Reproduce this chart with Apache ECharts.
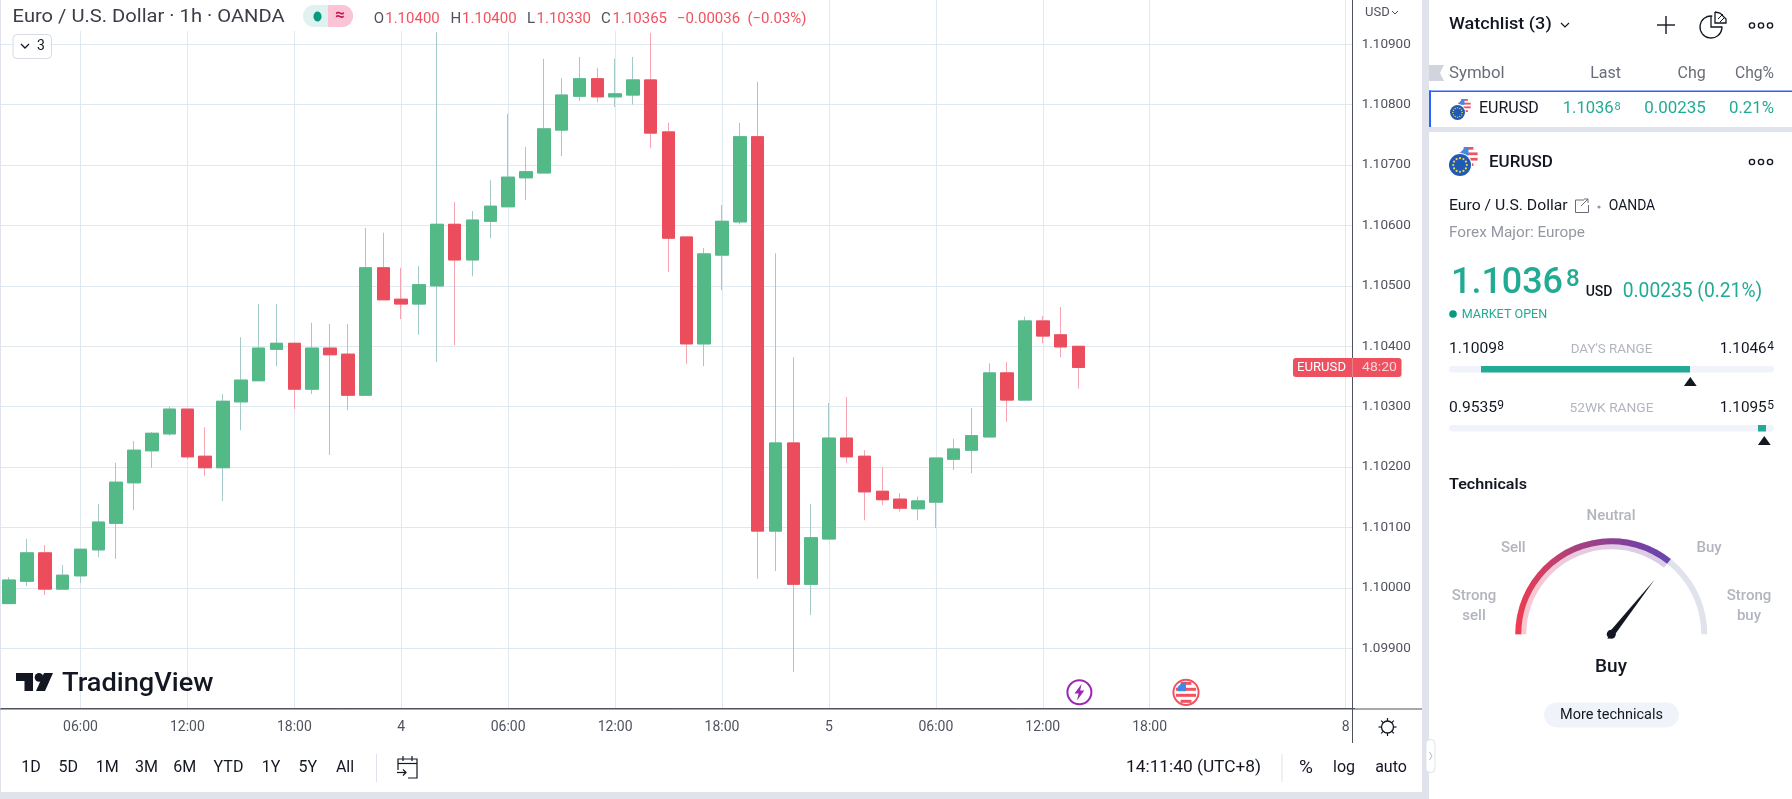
<!DOCTYPE html>
<html><head><meta charset="utf-8">
<style>html,body{margin:0;padding:0;background:#fff;overflow:hidden}#c{width:1792px;height:799px}</style>
<script src="https://cdn.jsdelivr.net/npm/echarts@6/dist/echarts.min.js"></script>
</head><body><div id="c"></div>
<script>
const categories=["02:00","03:00","04:00","05:00","06:00","07:00","08:00","09:00","10:00","11:00","12:00","13:00","14:00","15:00","16:00","17:00","18:00","19:00","20:00","21:00","22:00","23:00","4","01:00","02:00","03:00","04:00","05:00","06:00","07:00","08:00","09:00","10:00","11:00","12:00","13:00","14:00","15:00","16:00","17:00","18:00","19:00","20:00","21:00","22:00","23:00","5","01:00","02:00","03:00","04:00","05:00","06:00","07:00","08:00","09:00","10:00","11:00","12:00","13:00","14:00","15:00","16:00","17:00","18:00","19:00","20:00","21:00","22:00","23:00","00:00","01:00","02:00","03:00","04:00","8"];
const tickLabels=["06:00","12:00","18:00","4","5","8"];
const opens=[1.09974,1.10011,1.10058,1.09998,1.10020,1.10063,1.10107,1.10174,1.10227,1.10255,1.10296,1.10218,1.10199,1.10308,1.10343,1.10395,1.10405,1.10329,1.10397,1.10387,1.10319,1.10530,1.10478,1.10470,1.10500,1.10602,1.10543,1.10607,1.10631,1.10679,1.10687,1.10758,1.10814,1.10843,1.10813,1.10816,1.10841,1.10755,1.10581,1.10404,1.10551,1.10606,1.10747,1.10094,1.10240,1.10006,1.10081,1.10248,1.10218,1.10160,1.10147,1.10131,1.10142,1.10213,1.10228,1.10250,1.10356,1.10311,1.10442,1.10419,1.10400];
const closes=[1.10013,1.10058,1.09998,1.10021,1.10064,1.10109,1.10175,1.10228,1.10256,1.10296,1.10217,1.10199,1.10309,1.10344,1.10397,1.10405,1.10329,1.10397,1.10386,1.10319,1.10530,1.10477,1.10470,1.10502,1.10602,1.10543,1.10609,1.10632,1.10680,1.10689,1.10760,1.10816,1.10843,1.10813,1.10818,1.10841,1.10753,1.10579,1.10404,1.10553,1.10607,1.10747,1.10094,1.10240,1.10006,1.10083,1.10248,1.10217,1.10159,1.10146,1.10132,1.10144,1.10215,1.10230,1.10252,1.10356,1.10311,1.10442,1.10417,1.10399,1.10365];
const highs=[1.10018,1.10081,1.10071,1.10038,1.10064,1.10139,1.10207,1.10243,1.10258,1.10300,1.10296,1.10266,1.10321,1.10415,1.10470,1.10470,1.10405,1.10439,1.10437,1.10437,1.10596,1.10588,1.10530,1.10533,1.10920,1.10639,1.10624,1.10675,1.10785,1.10730,1.10876,1.10844,1.10879,1.10861,1.10876,1.10879,1.10919,1.10770,1.10581,1.10563,1.10634,1.10770,1.10838,1.10554,1.10382,1.10139,1.10306,1.10316,1.10228,1.10200,1.10157,1.10151,1.10215,1.10247,1.10298,1.10372,1.10374,1.10449,1.10450,1.10465,1.10400];
const lows=[1.09974,1.10003,1.09988,1.09998,1.10008,1.10051,1.10048,1.10129,1.10199,1.10252,1.10213,1.10185,1.10144,1.10261,1.10343,1.10367,1.10296,1.10321,1.10220,1.10294,1.10319,1.10477,1.10445,1.10419,1.10374,1.10402,1.10516,1.10579,1.10631,1.10642,1.10687,1.10715,1.10806,1.10804,1.10796,1.10800,1.10728,1.10523,1.10371,1.10367,1.10493,1.10602,1.10015,1.10028,1.09861,1.09955,1.10081,1.10207,1.10112,1.10137,1.10126,1.10112,1.10099,1.10195,1.10190,1.10250,1.10275,1.10311,1.10405,1.10382,1.10330];
const technicalsValue=0.713;

const chart=echarts.init(document.getElementById('c'),null,{renderer:'canvas'});
const UP='#53b987',DOWN='#eb4d5c',UPW='#a3c9c9',DOWNW='#f5a6b0';
const F='Roboto';
const G=[];
const Z=100;
const mctx=document.createElement('canvas').getContext('2d');
function rect(x,y,w,h,fill,r,stroke){G.push({type:'rect',z:Z,silent:true,shape:{x,y,width:w,height:h,r:r||0},style:{fill:fill||'none',stroke:stroke||null,lineWidth:1}});}
function circ(x,y,r,fill,stroke,lw){G.push({type:'circle',z:Z,silent:true,shape:{cx:x,cy:y,r},style:{fill:fill||'none',stroke:stroke||null,lineWidth:lw||1}});}
function line(x1,y1,x2,y2,c,lw){G.push({type:'line',z:Z,silent:true,shape:{x1,y1,x2,y2},style:{stroke:c,lineWidth:lw||1}});}
function poly(pts,fill){G.push({type:'polygon',z:Z,silent:true,shape:{points:pts},style:{fill}});}
function pline(pts,c,lw){G.push({type:'polyline',z:Z,silent:true,shape:{points:pts},style:{stroke:c,lineWidth:lw||1,fill:'none'}});}
/* width: optional drawn width in px; the glyphs are stretched horizontally to reach it */
function txt(s,x,y,size,fill,align,weight,width){
  const font=(weight||400)+' '+size+'px '+F;
  let sx=1;
  if(width){mctx.font=font;sx=width/mctx.measureText(s).width;}
  G.push({type:'text',z:Z+1,silent:true,x,y:y+1,scaleX:sx,style:{text:s,fill:fill||'#131722',font,align:align||'left',verticalAlign:'middle'}});
}
function dots(x,y){[-9,0,9].forEach(d=>circ(x+d,y,2.6,'#fff','#131722',1.4));}
function usFlag(cx,cy,r){
  circ(cx,cy,r,'#fff');
  const h=2*r/7;
  for(let k=0;k<7;k+=2){const yc=cy-r+h*(k+.5);const w=Math.sqrt(Math.max(0,r*r-(yc-cy)*(yc-cy)));rect(cx-w,yc-h/2,2*w,h,'#f0525f');}
  poly([[cx-r*.8,cy-r*.1],[cx-r*.8,cy-r*.5],[cx-r*.45,cy-r*.85],[cx,cy-r],[cx,cy-r*.1]],'#3f8ae6');
}
function pair(cx,cy,r,ur,dx,dy){
  usFlag(cx+dx,cy+dy,ur);
  circ(cx,cy,r+1,'#fff');
  circ(cx,cy,r,'#1f5bb5');
  for(let a=0;a<12;a+=1){const t=a*Math.PI/6;circ(cx+r*.62*Math.cos(t),cy+r*.62*Math.sin(t),r>9?1.1:.7,'#f5d33f');}
}

/* chart masks and page bands */
rect(1353.3,0,3,707,'#fff');
rect(0,0,811,31,'#fff');
rect(1422,0,7,799,'#e0e3eb');
rect(0,792,1429,7,'#e0e3eb');
rect(1429,127,363,5,'#e0e3eb');
line(0.5,0,0.5,792,'#e0e3eb',1);
line(0,709,1422,709,'#50535e',1);
line(1352.5,709,1352.5,743,'#50535e',1);

/* chart header */
txt('Euro / U.S. Dollar · 1h · OANDA',12.6,16.5,18,'#3b3e48','left',400,272);
rect(303,5,50,22,'#dff2ef',11);
G.push({type:'rect',z:Z,silent:true,shape:{x:328,y:5,width:25,height:22,r:[0,11,11,0]},style:{fill:'#fcc3d5'}});
G.push({type:'ellipse',z:Z,silent:true,shape:{cx:317.5,cy:16.5,rx:4,ry:5},style:{fill:'#089981'}});
txt('≈',340,15,17,'#c2185b','center',700);
const RED='#f0525f';
[['O','1.10400',373.7],['H','1.10400',450.6],['L','1.10330',527],['C','1.10365',601]].forEach(a=>{
  txt(a[0],a[2],18,15,'#50535e');
  txt(a[1],a[2]+(a[0]==='L'?9.5:11.5),18,15,RED);
});
txt('−0.00036',677,18,15,RED);
txt('(−0.03%)',747.4,18,15,RED);
rect(13,34.5,38.5,24,'#fff',4,'#d8dbe5');
pline([[21,44],[25,48],[29,44]],'#131722',1.3);
txt('3',41,45.5,14,'#131722','center');
txt('USD',1365,11.5,13,'#50535e');
pline([[1392,11],[1395,14],[1398,11]],'#50535e',1);

/* last price tag */
rect(1293,358,108.5,19,'#ef5060',3);
line(1352.5,358,1352.5,377,'#e7808a',1);
txt('EURUSD',1297,367,13.5,'#fff','left',400,49);
txt('48:20',1362,367,13.5,'#fbd0d5','left',400,35);

/* logo */
poly([[16,673],[33,673],[33,691],[24.5,691],[24.5,681],[16,681]],'#131722');
circ(39,677.4,4.3,'#131722');
poly([[44,673],[53,673],[45,691],[36,691]],'#131722');
txt('TradingView',62,683.5,26,'#131722','left',500,151.5);

/* event icons */
circ(1079.4,692.3,12,'#fff','#9c27b0',2);
poly([[1081.5,684],[1074.5,693.5],[1078.6,693.5],[1077,700.5],[1084.3,690.5],[1080.2,690.5]],'#9c27b0');
circ(1186,692.3,12.6,'#fff','#f0525f',2);
usFlag(1186,692.3,10.5);

/* time-scale gear and toolbar */
circ(1387.5,727,6,'#fff','#131722',1.3);
[[0,-9,0,-6],[0,6,0,9],[-9,0,-6,0],[6,0,9,0],[-6.4,-6.4,-4.3,-4.3],[4.3,4.3,6.4,6.4],[-6.4,6.4,-4.3,4.3],[4.3,-4.3,6.4,-6.4]].forEach(d=>line(1387.5+d[0],727+d[1],1387.5+d[2],727+d[3],'#131722',1.2));
[['1D',31],['5D',68.3],['1M',107.3],['3M',146.4],['6M',184.8],['YTD',228.5],['1Y',271],['5Y',307.7],['All',345]].forEach(a=>txt(a[0],a[1],767,16,'#131722','center'));
line(376.5,754,376.5,782,'#e0e3eb',1);
pline([[398,770],[398,759],[417,759],[417,778],[408,778]],'#131722',1.2);
line(398,763.5,417,763.5,'#131722',1.2);line(403,756,403,761,'#131722',1.2);line(412,756,412,761,'#131722',1.2);
pline([[397,772.5],[406,772.5]],'#131722',1.2);pline([[403,769.5],[406,772.5],[403,775.5]],'#131722',1.2);
txt('14:11:40 (UTC+8)',1126,767,16,'#131722','left',400,135);
line(1282,754,1282,782,'#e0e3eb',1);
txt('%',1306,767,19,'#131722','center');txt('log',1344,767,16,'#131722','center');txt('auto',1391,767,16,'#131722','center');

/* watchlist */
txt('Watchlist (3)',1449,24,16.5,'#131722','left',500,102.7);
pline([[1561,23],[1565,27],[1569,23]],'#131722',1.2);
line(1657,25,1675,25,'#131722',1.4);line(1666,16,1666,34,'#131722',1.4);
G.push({type:'arc',z:Z,silent:true,shape:{cx:1711,cy:27,r:11,startAngle:-1.45,endAngle:-0.05,clockwise:false},style:{stroke:'#131722',lineWidth:1.3,fill:'none'}});
pline([[1711,16],[1711,27],[1722,27]],'#131722',1.3);
poly([[1715,12],[1725,14],[1726,22],[1715,22]],'#fff');
pline([[1715,12],[1720,13],[1726,19],[1726,23],[1715,23],[1715,12]],'#131722',1.3);
line(1718,19,1723,14,'#131722',1);line(1720,22,1725,17,'#131722',1);
dots(1761,25.5);
poly([[1429,65],[1444,65],[1440,73],[1444,81],[1429,81]],'#d1d4dc');
const GRY='#6a6d78',GRN='#22ab94';
txt('Symbol',1449,72.5,16,GRY,'left',400,55.7);
txt('Last',1621,72.5,16,GRY,'right');
txt('Chg',1705.7,72.5,16,GRY,'right');
txt('Chg%',1774,72.5,16,GRY,'right',400,39);
rect(1429,90.5,363,1.5,'#2962ff');
rect(1429,90.5,2,36.5,'#2962ff');
pair(1457.5,112.5,7.5,6.5,7,-7);
txt('EURUSD',1479,108,16,'#131722');
txt('1.1036',1562.7,108,16.5,GRN,'left',400,51);
txt('8',1614.5,106,11,GRN);
txt('0.00235',1705.7,108,16.5,GRN,'right',400,61.5);
txt('0.21%',1774,108,16.5,GRN,'right',400,45);
/* symbol details */
pair(1460,165,11,9.5,8.5,-8.5);
txt('EURUSD',1489,162,17,'#131722','left',500);
dots(1761,162);
txt('Euro / U.S. Dollar',1449,205.5,15,'#131722','left',400,118.7);
pline([[1584,200],[1575.5,200],[1575.5,212.5],[1588.5,212.5],[1588.5,205]],'#6a6d78',1);
pline([[1581,206],[1588,199]],'#6a6d78',1);pline([[1584,199],[1588,199],[1588,203]],'#6a6d78',1);
circ(1599,207,1.6,'#9598a1');
txt('OANDA',1608.7,205.5,14.5,'#131722','left',400,46.5);
txt('Forex Major: Europe',1449,232,15,'#9598a1','left',400,136);
txt('1.1036',1451,283,37,GRN,'left',500,112);
txt('8',1566,278.5,24,GRN,'left',500);
txt('USD',1585.7,291,14,'#131722','left',500);
txt('0.00235 (0.21%)',1622.7,290.5,20,GRN,'left',400,139.5);
circ(1453,314,3.8,'#089981');
txt('MARKET OPEN',1461.7,313.5,12.5,GRN,'left',400,85.5);
function rng(v,sup,y,side){
  if(side==='l'){txt(v,1449,y,14.5,'#131722','left',400,48);txt(sup,1497.3,y-2,12,'#131722');}
  else{txt(v,1766.7,y,14.5,'#131722','right',400,47);txt(sup,1767.3,y-2,12,'#131722');}
}
rng('1.1009','8',348,'l');rng('1.1046','4',348,'r');
txt("DAY'S RANGE",1611.5,348.5,13,'#b2b5be','center',400,81.6);
rect(1449,366,325,6.5,'#f0f3fa',3);
rect(1481,366,209,6.5,GRN);
poly([[1690.3,377],[1696.7,386],[1683.9,386]],'#131722');
rng('0.9535','9',407,'l');rng('1.1095','5',407,'r');
txt('52WK RANGE',1611.5,407.5,13,'#b2b5be','center',400,84);
rect(1449,425,325,6.5,'#f0f3fa',3);
rect(1758,425,8,6.5,GRN);
poly([[1764.3,436],[1770.7,445],[1757.9,445]],'#131722');

/* technicals */
txt('Technicals',1449,484.7,15,'#131722','left',600,78);
const TG='#b2b5be';
txt('Neutral',1611,515,15,TG,'center',500);
txt('Sell',1513.3,547,15,TG,'center',500);
txt('Buy',1709,547,15,TG,'center',500);
txt('Strong',1474,595,15,TG,'center',500);txt('sell',1474,615,15,TG,'center',500);
txt('Strong',1749,595,15,TG,'center',500);txt('buy',1749,615,15,TG,'center',500);
txt('Buy',1611,666,19,'#131722','center',500);
rect(1544,702.5,135,25,'#f0f3fa',12.5);
txt('More technicals',1611.5,714.5,14.5,'#131722','center');
rect(1426,739.5,9,33,'#fff',4,'#e0e3eb');
pline([[1429.5,752],[1432,756],[1429.5,760]],'#b2b5be',1);

const grad=(stops)=>new echarts.graphic.LinearGradient(1515,0,1690,0,stops,true);
const baseGauge={type:'gauge',center:[1611.3,634.3],radius:96,min:0,max:1,startAngle:180,endAngle:0,
  axisTick:{show:false},splitLine:{show:false},axisLabel:{show:false},title:{show:false},detail:{show:false},silent:true,animation:false};

chart.setOption({
  animation:false,
  backgroundColor:'#fff',
  tooltip:{show:false},
  grid:{left:0.3,top:-16.1,width:1354.3,height:724.8,containLabel:false,outerBoundsMode:'none'},
  xAxis:{type:'category',data:categories,boundaryGap:true,
    axisLine:{show:true,lineStyle:{color:'#50535e',width:1}},
    axisTick:{show:false},
    axisLabel:{show:true,interval:(i,v)=>tickLabels.includes(v),color:'#50535e',fontFamily:F,fontSize:14,margin:11.5,hideOverlap:false},
    splitLine:{show:true,alignWithLabel:true,interval:(i,v)=>tickLabels.includes(v),lineStyle:{color:'#dfe9ef',width:1}}},
  yAxis:{type:'value',position:'right',offset:-1.9,min:1.098,max:1.11,interval:0.001,scale:true,
    axisLine:{show:true,lineStyle:{color:'#50535e',width:1}},
    axisTick:{show:false},
    axisLabel:{color:'#50535e',fontFamily:F,fontSize:13.5,margin:9,showMinLabel:false,showMaxLabel:false,formatter:v=>v.toFixed(5)},
    splitLine:{show:true,lineStyle:{color:'#dfe9ef',width:1}}},
  graphic:{elements:G},
  series:[
    {name:'wicks',type:'candlestick',barWidth:13,silent:true,
     itemStyle:{color:UPW,color0:DOWNW,borderColor:UPW,borderColor0:DOWNW,borderWidth:1},
     data:opens.map((o,i)=>[o,closes[i],lows[i],highs[i]])},
    {name:'bodies',type:'candlestick',barWidth:13,silent:true,
     itemStyle:{color:UP,color0:DOWN,borderColor:UP,borderColor0:DOWN,borderWidth:1},
     data:opens.map((o,i)=>[o,closes[i],Math.min(o,closes[i]),Math.max(o,closes[i])])},
    Object.assign({},baseGauge,{z:3,axisLine:{show:false},pointer:{show:false},
      progress:{show:true,width:11,itemStyle:{color:grad([{offset:0,color:'#fcc8cf'},{offset:.5,color:'#e2cbe3'},{offset:1,color:'#d6cdea'}])}},
      data:[{value:technicalsValue}]}),
    Object.assign({},baseGauge,{z:4,axisLine:{show:true,lineStyle:{width:6,color:[[1,'#e0e3eb']]}},
      progress:{show:false},pointer:{show:false},data:[{value:0}]}),
    Object.assign({},baseGauge,{z:5,axisLine:{show:false},
      progress:{show:true,width:6,itemStyle:{color:grad([{offset:0,color:'#f23b4f'},{offset:.35,color:'#a8417f'},{offset:.7,color:'#7b3fa2'},{offset:1,color:'#5b4cb5'}])}},
      pointer:{show:true,length:70,width:3,itemStyle:{color:'#131722'},offsetCenter:[0,0]},
      anchor:{show:true,size:9,showAbove:true,itemStyle:{color:'#131722',borderWidth:0}},
      data:[{value:technicalsValue}]})
  ]
});
</script></body></html>
